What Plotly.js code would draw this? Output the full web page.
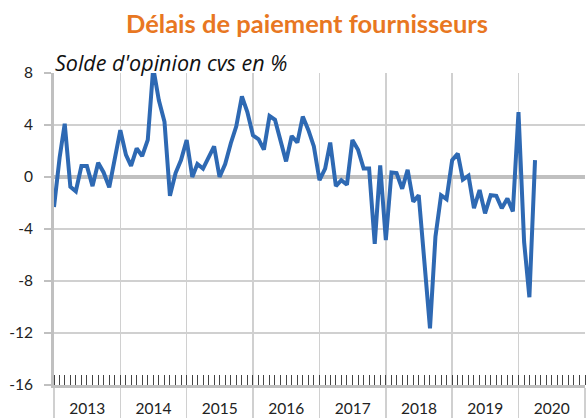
<!DOCTYPE html>
<html>
<head>
<meta charset="utf-8">
<script src="https://cdn.plot.ly/plotly-3.0.1.min.js"></script>
<style>html,body{margin:0;padding:0;background:#fff;}#chart{width:586px;height:418px;}</style>
</head>
<body>
<div id="chart"></div>
<script>
// Monthly series starting January 2013
var startYear = 2013;
var startMonth = 1;
var values = [
  -2.3, 1.5, 4.1, -0.75, -1.1, 0.85, 0.85, -0.7, 1.1, 0.35, -0.8, 1.2,
  3.6, 1.7, 0.85, 2.2, 1.6, 2.85, 8.4, 5.9, 4.25, -1.45, 0.3, 1.3,
  2.85, 0.0, 1.0, 0.65, 1.55, 2.35, 0.0, 1.0, 2.6, 3.9, 6.2, 5.0,
  3.2, 2.9, 2.1, 4.7, 4.4, 2.85, 1.2, 3.15, 2.65, 4.65, 3.6, 2.35,
  -0.25, 0.65, 2.65, -0.7, -0.25, -0.6, 2.85, 2.1, 0.65, 0.65, -5.15, 0.9,
  -4.85, 0.35, 0.3, -0.9, 0.55, -1.9, -1.4, -6.5, -11.65, -4.6, -1.4, -1.7,
  1.3, 1.8, -0.2, 0.1, -2.4, -1.0, -2.8, -1.4, -1.45, -2.4, -1.65, -2.65,
  5.0, -5.0, -9.25, 1.3
];
var yTicks = [8, 4, 0, -4, -8, -12, -16];
var titleText = "Délais de paiement fournisseurs";
var subtitleText = "Solde d'opinion cvs en %";

var dates = values.map(function (v, i) {
  var m = startMonth - 1 + i;
  var y = startYear + Math.floor(m / 12);
  var mm = (m % 12) + 1;
  return y + "-" + (mm < 10 ? "0" + mm : mm) + "-01";
});

var trace = {
  x: dates,
  y: values,
  type: "scatter",
  mode: "lines",
  line: {color: "#2E69B3", width: 4},
  hoverinfo: "skip"
};

var layout = {
  width: 586,
  height: 418,
  margin: {l: 54, r: 1, t: 73, b: 33},
  paper_bgcolor: "#ffffff",
  plot_bgcolor: "#ffffff",
  showlegend: false,
  font: {family: "Lato, 'Open Sans', sans-serif", color: "#222"},
  xaxis: {
    type: "date",
    range: ["2013-01-01", "2021-01-01"],
    tick0: "2013-01-01",
    dtick: "M12",
    tickformat: "%Y",
    ticklabelmode: "period",
    ticks: "outside",
    ticklen: 33,
    tickwidth: 1.5,
    tickcolor: "#d0d0d0",
    ticklabelstandoff: -25,
    showgrid: true,
    gridcolor: "#d0d0d0",
    gridwidth: 1.5,
    showline: true,
    linecolor: "#c0c0c0",
    linewidth: 2.5,
    tickfont: {size: 15.5, color: "#222"},
    minor: {
      dtick: "M1",
      ticks: "inside",
      ticklen: 10,
      tickwidth: 1,
      tickcolor: "#444",
      showgrid: false
    },
    fixedrange: true
  },
  yaxis: {
    range: [-16, 8],
    tickvals: yTicks,
    ticktext: yTicks.map(String),
    ticks: "outside",
    ticklen: 7,
    tickwidth: 1.5,
    tickcolor: "#c0c0c0",
    ticklabelstandoff: 8,
    showgrid: true,
    gridcolor: "#d0d0d0",
    gridwidth: 1.5,
    zeroline: true,
    zerolinecolor: "#c0c0c0",
    zerolinewidth: 3.5,
    showline: true,
    linecolor: "#c0c0c0",
    linewidth: 3,
    tickfont: {size: 15.5, color: "#222"},
    fixedrange: true
  },
  annotations: [
    {
      text: "<b>" + titleText + "</b>",
      xref: "paper", yref: "paper",
      x: 0.476, y: 1,
      yshift: 50,
      xanchor: "center", yanchor: "middle",
      showarrow: false,
      font: {size: 25.5, color: "#E87722", family: "Lato, 'Open Sans', sans-serif"}
    },
    {
      text: "<i>" + subtitleText + "</i>",
      xref: "paper", yref: "paper",
      x: 0, y: 1,
      xshift: -1,
      yshift: 11,
      xanchor: "left", yanchor: "middle",
      showarrow: false,
      font: {size: 21.5, color: "#111", family: "'Open Sans', sans-serif"}
    }
  ]
};

Plotly.newPlot("chart", [trace], layout, {displayModeBar: false, staticPlot: true});
</script>
</body>
</html>
